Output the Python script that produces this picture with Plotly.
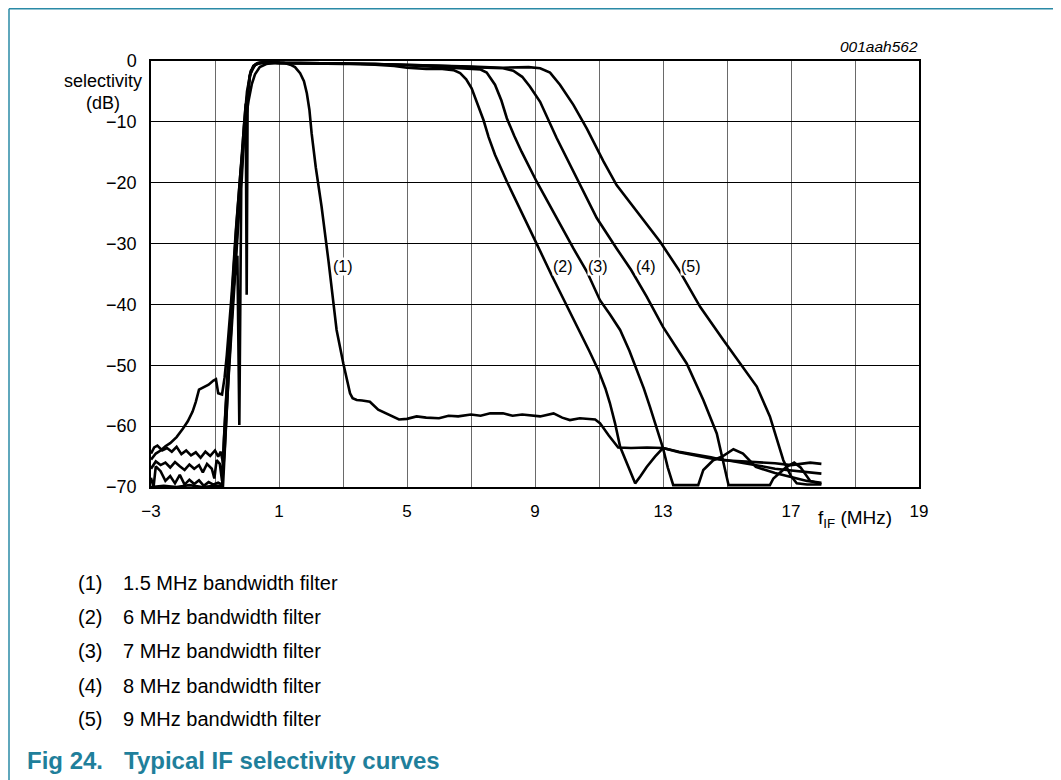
import plotly.graph_objects as go

# ---------------- data ----------------
curve_names = ["(1)", "(2)", "(3)", "(4)", "(5)"]
legend_texts = ["1.5 MHz bandwidth filter", "6 MHz bandwidth filter",
                "7 MHz bandwidth filter", "8 MHz bandwidth filter",
                "9 MHz bandwidth filter"]

curve1 = [(-3.0,-65.5),(-2.85,-64.5),(-2.7,-64.0),(-2.55,-63.3),(-2.4,-62.8),(-2.2,-61.8),(-2.0,-60.4),
          (-1.85,-59.2),(-1.7,-57.6),(-1.6,-56.0),(-1.5,-54.0),(-1.35,-53.6),(-1.2,-53.2),(-1.05,-52.5),
          (-0.97,-52.3),(-0.9,-54.6),(-0.78,-54.8),(-0.7,-52.0),(-0.63,-48.3),(-0.48,-38.4),(-0.35,-28.0),
          (-0.2,-18.0),(-0.05,-10.0),(0.05,-6.5),(0.15,-3.8),(0.25,-2.2),(0.4,-1.0),(0.6,-0.5),(0.8,-0.3),
          (0.95,-0.25),(1.15,-0.3),(1.35,-0.6),(1.5,-1.0),(1.66,-2.0),(1.78,-3.3),(1.87,-5.3),(1.95,-8.0),
          (2.02,-11.9),(2.15,-17.5),(2.33,-23.9),(2.55,-33.0),(2.8,-44.2),(3.01,-49.7),(3.15,-53.0),
          (3.22,-54.6),(3.3,-55.4),(3.43,-55.7),(3.6,-55.8),(3.84,-56.0),(4.1,-57.3),(4.3,-57.8),(4.5,-58.3),
          (4.75,-58.9),(5.0,-58.8),(5.3,-58.4),(5.6,-58.6),(6.0,-58.7),(6.3,-58.3),(6.6,-58.4),(7.0,-58.1),
          (7.3,-58.3),(7.6,-57.9),(8.0,-57.9),(8.3,-58.3),(8.6,-58.1),(9.16,-58.4),(9.58,-57.9),(9.85,-58.6),
          (10.09,-59.0),(10.4,-58.7),(10.7,-58.8),(10.88,-58.9),(11.03,-59.5),(11.3,-61.5),(11.6,-63.5),
          (12.0,-63.6),(12.5,-63.5),(13.0,-63.6),(13.5,-64.2),(14.0,-64.6),(14.5,-65.1),(14.9,-65.6),
          (15.5,-65.8),(16.0,-66.0),(16.5,-66.1),(17.0,-66.4),(17.3,-66.2),(17.6,-66.0),(17.95,-66.2)]

curve2 = [(-3.0,-64.5),(-2.9,-63.5),(-2.8,-63.2),(-2.65,-64.0),(-2.5,-63.6),(-2.35,-64.2),(-2.2,-63.4),
          (-2.05,-64.6),(-1.9,-64.0),(-1.75,-64.8),(-1.6,-64.3),(-1.45,-65.2),(-1.3,-64.2),(-1.15,-64.9),
          (-1.0,-64.0),(-0.9,-65.0),(-0.82,-64.2),(-0.75,-66.0),(-0.68,-58.0),(-0.58,-48.0),(-0.45,-37.0),
          (-0.33,-27.0),(-0.2,-18.0),(-0.1,-11.0),(-0.04,-7.0),(-0.01,-38.4),(0.02,-6.0),(0.1,-2.0),
          (0.2,-0.8),(0.35,-0.3),(0.6,-0.2),(1.0,-0.3),(2.0,-0.35),(3.0,-0.4),(4.0,-0.6),(4.6,-0.8),
          (5.0,-1.1),(5.6,-1.3),(6.1,-1.3),(6.45,-1.5),(6.66,-2.0),(6.85,-3.0),(7.02,-4.5),(7.2,-7.0),
          (7.39,-9.7),(7.55,-12.5),(7.75,-15.4),(8.12,-19.8),(8.53,-24.2),(9.05,-30.0),(9.52,-35.2),
          (9.99,-40.1),(10.41,-44.7),(10.7,-47.7),(10.98,-50.8),(11.2,-53.8),(11.34,-56.2),(11.5,-59.5),
          (11.66,-63.4),(11.9,-66.5),(12.13,-69.4),(12.3,-68.2),(12.49,-66.7),(12.75,-65.0),(13.0,-63.6),
          (13.5,-64.3),(14.0,-64.8),(14.5,-65.3),(15.0,-65.6),(15.5,-66.0),(16.0,-66.5),(16.5,-67.0),
          (17.0,-67.3),(17.5,-67.6),(17.95,-67.8)]

curve3 = [(-3.0,-67.0),(-2.85,-65.8),(-2.7,-66.4),(-2.55,-66.0),(-2.4,-66.8),(-2.25,-65.9),(-2.1,-66.6),
          (-1.95,-67.2),(-1.8,-66.3),(-1.65,-67.0),(-1.5,-66.4),(-1.38,-67.6),(-1.25,-66.2),(-1.1,-67.0),
          (-1.02,-68.6),(-0.95,-65.6),(-0.85,-66.2),(-0.78,-69.0),(-0.72,-62.0),(-0.62,-52.0),(-0.5,-42.0),
          (-0.4,-36.0),(-0.3,-32.0),(-0.24,-59.8),(-0.18,-21.0),(-0.1,-13.0),(0.0,-6.0),(0.08,-2.5),
          (0.2,-0.8),(0.4,-0.3),(1.0,-0.3),(2.0,-0.4),(3.0,-0.5),(4.0,-0.5),(5.0,-0.7),(6.0,-1.0),
          (6.5,-1.1),(7.0,-1.2),(7.3,-1.4),(7.49,-1.9),(7.62,-2.8),(7.75,-3.9),(7.95,-6.5),(8.12,-9.4),
          (8.35,-12.3),(8.58,-14.9),(9.05,-19.8),(9.57,-24.8),(10.2,-30.8),(10.62,-34.6),(11.03,-39.3),
          (11.35,-41.7),(11.66,-44.2),(11.95,-47.6),(12.18,-50.8),(12.4,-53.8),(12.59,-56.8),(12.8,-60.2),
          (13.0,-63.6),(13.15,-66.8),(13.32,-69.7),(14.1,-69.7),(14.26,-67.2),(14.57,-65.6),(14.85,-65.0),
          (15.2,-63.8),(15.5,-64.5),(15.9,-66.7),(16.5,-67.7),(16.97,-68.3),(17.5,-69.0),(17.95,-69.3)]

curve4 = [(-3.0,-68.5),(-2.92,-70.0),(-2.85,-66.6),(-2.7,-67.4),(-2.55,-69.0),(-2.4,-68.2),(-2.25,-69.4),
          (-2.1,-68.0),(-1.95,-69.6),(-1.8,-68.8),(-1.65,-69.5),(-1.5,-68.9),(-1.35,-69.8),(-1.2,-69.2),
          (-1.05,-69.6),(-0.9,-69.3),(-0.78,-69.6),(-0.7,-64.0),(-0.6,-54.0),(-0.48,-44.0),(-0.36,-34.0),
          (-0.25,-24.0),(-0.12,-14.0),(-0.02,-7.0),(0.1,-2.2),(0.25,-0.6),(0.5,-0.2),(1.0,-0.3),(2.0,-0.3),
          (3.0,-0.4),(4.0,-0.5),(5.0,-0.6),(6.0,-0.8),(7.0,-1.0),(8.0,-1.2),(8.32,-1.6),(8.6,-2.6),
          (8.84,-4.2),(9.16,-6.7),(9.68,-12.7),(10.3,-19.3),(10.93,-25.8),(11.55,-30.8),(12.0,-34.3),
          (12.49,-38.7),(13.0,-43.7),(13.74,-49.7),(14.26,-55.7),(14.68,-61.2),(14.83,-64.7),(15.05,-69.7),
          (16.34,-69.7),(16.45,-68.6),(16.86,-66.7),(17.1,-66.0),(17.3,-66.8),(17.6,-69.0),(17.95,-69.5)]

curve5 = [(-3.0,-70.0),(-2.6,-69.8),(-2.2,-70.0),(-1.8,-69.7),(-1.4,-70.0),(-1.0,-69.8),(-0.75,-69.8),
          (-0.66,-60.0),(-0.56,-50.0),(-0.45,-40.0),(-0.33,-30.0),(-0.22,-20.0),(-0.1,-11.0),(0.0,-5.0),
          (0.12,-1.6),(0.3,-0.4),(0.6,-0.2),(1.0,-0.3),(2.0,-0.3),(3.0,-0.4),(4.0,-0.5),(5.0,-0.6),
          (6.0,-0.8),(7.0,-0.9),(8.0,-1.1),(8.8,-1.0),(9.16,-1.2),(9.47,-1.9),(9.78,-3.9),(10.2,-7.2),
          (10.62,-11.1),(11.14,-16.5),(11.55,-20.4),(12.28,-25.3),(12.91,-29.7),(13.53,-34.6),(14.16,-40.4),
          (14.88,-45.8),(15.41,-49.7),(15.93,-53.5),(16.34,-58.4),(16.55,-62.0),(16.76,-65.6),(17.0,-68.2),
          (17.18,-69.4),(17.5,-69.6),(17.95,-69.6)]

curves = [curve1, curve2, curve3, curve4, curve5]

# curve label anchor points (data coords)
label_x = [3.0, 9.86, 10.97, 12.47, 13.88]
label_y = [-33.7, -33.7, -33.7, -33.7, -33.7]

x_tick_vals = [-3, 1, 5, 9, 13, 17, 21]
x_tick_text = ["\u22123", "1", "5", "9", "13", "17", "19"]
x_grid_vals = list(range(-3, 22, 2))
y_tick_vals = [0, -10, -20, -30, -40, -50, -60, -70]
y_tick_text = ["0", "\u221210", "\u221220", "\u221230", "\u221240", "\u221250", "\u221260", "\u221270"]

# ---------------- layout geometry (page pixel coordinates) ----------------
OFF = 8                                  # page body margin of the browser
W, H = 1061 - OFF, 780 - OFF
L, R, T, B = 151, 919, 61, 487           # plot area in page pixels
FONT = "Liberation Sans, Arial, sans-serif"
TEAL = "#2a8aa6"
CAPTION = "#1f7f9b"

def px(xp):
    return (xp - L) / (R - L)

def py(yp):
    return (B - yp) / (B - T)

fig = go.Figure()
for c in curves:
    fig.add_trace(go.Scatter(x=[p[0] for p in c], y=[p[1] for p in c], mode="lines",
                             line=dict(color="black", width=2.6), showlegend=False,
                             hoverinfo="skip"))

annotations = []
for name, lx, ly in zip(curve_names, label_x, label_y):
    annotations.append(dict(x=lx, y=ly, xref="x", yref="y", text=name, showarrow=False,
                            font=dict(family=FONT, size=16, color="black"),
                            bgcolor="white", borderpad=0))

annotations += [
    dict(x=px(103), y=py(81), xref="paper", yref="paper", text="selectivity", showarrow=False,
         font=dict(family=FONT, size=18, color="black"), xanchor="center", yanchor="middle",
         borderpad=0),
    dict(x=px(103), y=py(103), xref="paper", yref="paper", text="(dB)", showarrow=False,
         font=dict(family=FONT, size=18, color="black"), xanchor="center", yanchor="middle",
         borderpad=0),
    dict(x=px(855), y=py(519), xref="paper", yref="paper", text="f<sub>IF</sub> (MHz)", showarrow=False,
         font=dict(family=FONT, size=19, color="black"), xanchor="center", yanchor="middle"),
    dict(x=px(920), y=py(46), xref="paper", yref="paper", text="<i>001aah562</i>", showarrow=False,
         font=dict(family=FONT, size=15.5, color="black"), xanchor="right", yanchor="middle"),
    dict(x=px(25), y=py(760), xref="paper", yref="paper", text="<b>Fig 24.</b>", showarrow=False,
         font=dict(family=FONT, size=24, color=CAPTION), xanchor="left", yanchor="middle"),
    dict(x=px(122), y=py(760), xref="paper", yref="paper", text="<b>Typical IF selectivity curves</b>",
         showarrow=False, font=dict(family=FONT, size=24, color=CAPTION),
         xanchor="left", yanchor="middle"),
]
legend_y = [582.7, 616.7, 650.7, 686, 719.3]
for name, txt, ly in zip(curve_names, legend_texts, legend_y):
    annotations.append(dict(x=px(76), y=py(ly), xref="paper", yref="paper", text=name,
                            showarrow=False, font=dict(family=FONT, size=20, color="black"),
                            xanchor="left", yanchor="middle"))
    annotations.append(dict(x=px(120.5), y=py(ly), xref="paper", yref="paper", text=txt,
                            showarrow=False, font=dict(family=FONT, size=20, color="black"),
                            xanchor="left", yanchor="middle"))

shapes = [
    dict(type="line", xref="paper", yref="paper", x0=px(9), x1=px(1061), y0=py(8.8), y1=py(8.8),
         line=dict(color=TEAL, width=1.5)),
    dict(type="line", xref="paper", yref="paper", x0=px(9), x1=px(9), y0=py(8.8), y1=py(780),
         line=dict(color=TEAL, width=1.5)),
]

fig.update_layout(
    width=W, height=H,
    margin=dict(l=L - OFF, r=(W + OFF) - R, t=T - OFF, b=(H + OFF) - B, pad=0),
    paper_bgcolor="white", plot_bgcolor="white",
    font=dict(family=FONT, size=17, color="black"),
    annotations=annotations, shapes=shapes,
    xaxis=dict(range=[-3, 21], tickmode="array", tickvals=x_tick_vals, ticktext=x_tick_text,
               showgrid=False, zeroline=False, showline=True, linecolor="black", linewidth=1.5,
               mirror=True, ticks="", ticklabelstandoff=8,
               tickfont=dict(family=FONT, size=17, color="black"),
               minor=dict(tickmode="array", tickvals=x_grid_vals, showgrid=True,
                          gridcolor="#6a6a6a", gridwidth=1.3, ticks="")),
    yaxis=dict(range=[-70, 0], tickmode="array", tickvals=y_tick_vals, ticktext=y_tick_text,
               showgrid=True, gridcolor="black", gridwidth=1.2, zeroline=False,
               showline=True, linecolor="black", linewidth=1.5, mirror=True, ticks="",
               ticklabelstandoff=9, tickfont=dict(family=FONT, size=18, color="black")),
)

fig.write_html("out.html")
